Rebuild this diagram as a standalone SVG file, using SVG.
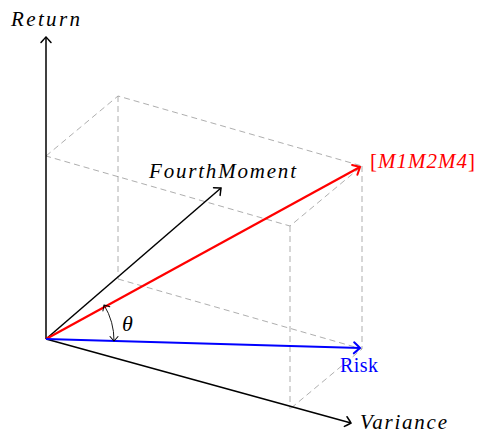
<svg xmlns="http://www.w3.org/2000/svg" width="480" height="435" viewBox="0 0 480 435">
<style>
.ax{stroke:#000;stroke-width:1.5;fill:none}
.dash{stroke:#999;stroke-width:0.8;stroke-dasharray:6 4;fill:none}
.m{font-family:"Liberation Serif","DejaVu Serif",serif;font-style:italic;font-size:21px}
.r{font-family:"Liberation Serif","DejaVu Serif",serif;font-size:20px}
</style>
<defs>
<marker id="ab" markerUnits="userSpaceOnUse" markerWidth="14" markerHeight="14" viewBox="-8 -7 10 14" refX="0" refY="0" orient="auto"><path d="M-5.5,-5 Q-1,-1 0,0 Q-1,1 -5.5,5" fill="none" stroke="#000" stroke-width="1.5" stroke-linecap="round"/></marker>
<marker id="ar" markerUnits="userSpaceOnUse" markerWidth="14" markerHeight="14" viewBox="-8 -7 10 14" refX="0" refY="0" orient="auto"><path d="M-6,-5.5 Q-1,-1 0,0 Q-1,1 -6,5.5" fill="none" stroke="#f00" stroke-width="2" stroke-linecap="round"/></marker>
<marker id="au" markerUnits="userSpaceOnUse" markerWidth="14" markerHeight="14" viewBox="-8 -7 10 14" refX="0" refY="0" orient="auto"><path d="M-6,-5.5 Q-1,-1 0,0 Q-1,1 -6,5.5" fill="none" stroke="#00f" stroke-width="2" stroke-linecap="round"/></marker>
<marker id="at" markerUnits="userSpaceOnUse" markerWidth="12" markerHeight="12" viewBox="-7 -6 9 12" refX="0" refY="0" orient="auto"><path d="M-4.5,-4 Q-1,-1 0,0 Q-1,1 -4.5,4" fill="none" stroke="#000" stroke-width="1" stroke-linecap="round"/></marker>
<marker id="atS" markerUnits="userSpaceOnUse" markerWidth="12" markerHeight="12" viewBox="-7 -6 9 12" refX="0" refY="0" orient="auto-start-reverse"><path d="M-4.5,-4 Q-1,-1 0,0 Q-1,1 -4.5,4" fill="none" stroke="#000" stroke-width="1" stroke-linecap="round"/></marker>
</defs>
<g id="box">
<path class="dash" d="M46,156 L118,96 L362,166 L290,226 Z"/>
<path class="dash" d="M118,96 L118,279 M290,226 L290,409 M362,166 L362,349"/>
<path class="dash" d="M118,279 L362,349 L290,409"/>
</g>
<g id="connectors">
<line id="return-axis" class="ax" x1="46" y1="339" x2="46" y2="37" marker-end="url(#ab)"/>
<line id="fourth-axis" class="ax" x1="46" y1="339" x2="221" y2="188" marker-end="url(#ab)"/>
<line id="variance-axis" class="ax" x1="46" y1="339" x2="351" y2="423" marker-end="url(#ab)"/>
<line id="m-vector" x1="46" y1="339" x2="360" y2="167" stroke="#f00" stroke-width="2.2" marker-end="url(#ar)"/>
<line id="risk-vector" x1="46" y1="339" x2="360" y2="348" stroke="#00f" stroke-width="2.2" marker-end="url(#au)"/>
<path id="theta-arc" d="M104,305 A68,68 0 0 1 114,341" fill="none" stroke="#000" stroke-width="0.9" marker-start="url(#atS)" marker-end="url(#at)"/>
</g>
<g id="labels">
<text id="return-label" class="m" x="11" y="26" textLength="69" lengthAdjust="spacing">Return</text>
<text id="fourth-label" class="m" x="149" y="178" textLength="147" lengthAdjust="spacing">FourthMoment</text>
<text id="m-label" class="m" x="370" y="168" fill="#f00" textLength="105" lengthAdjust="spacing"><tspan font-style="normal">[</tspan>M1M2M4<tspan font-style="normal">]</tspan></text>
<text id="theta-label" class="m" x="122" y="331" style="font-size:22px">θ</text>
<text id="risk-label" class="r" x="340" y="372" fill="#00f" textLength="38" lengthAdjust="spacing">Risk</text>
<text id="variance-label" class="m" x="360" y="429" textLength="87" lengthAdjust="spacing">Variance</text>
</g>
</svg>
